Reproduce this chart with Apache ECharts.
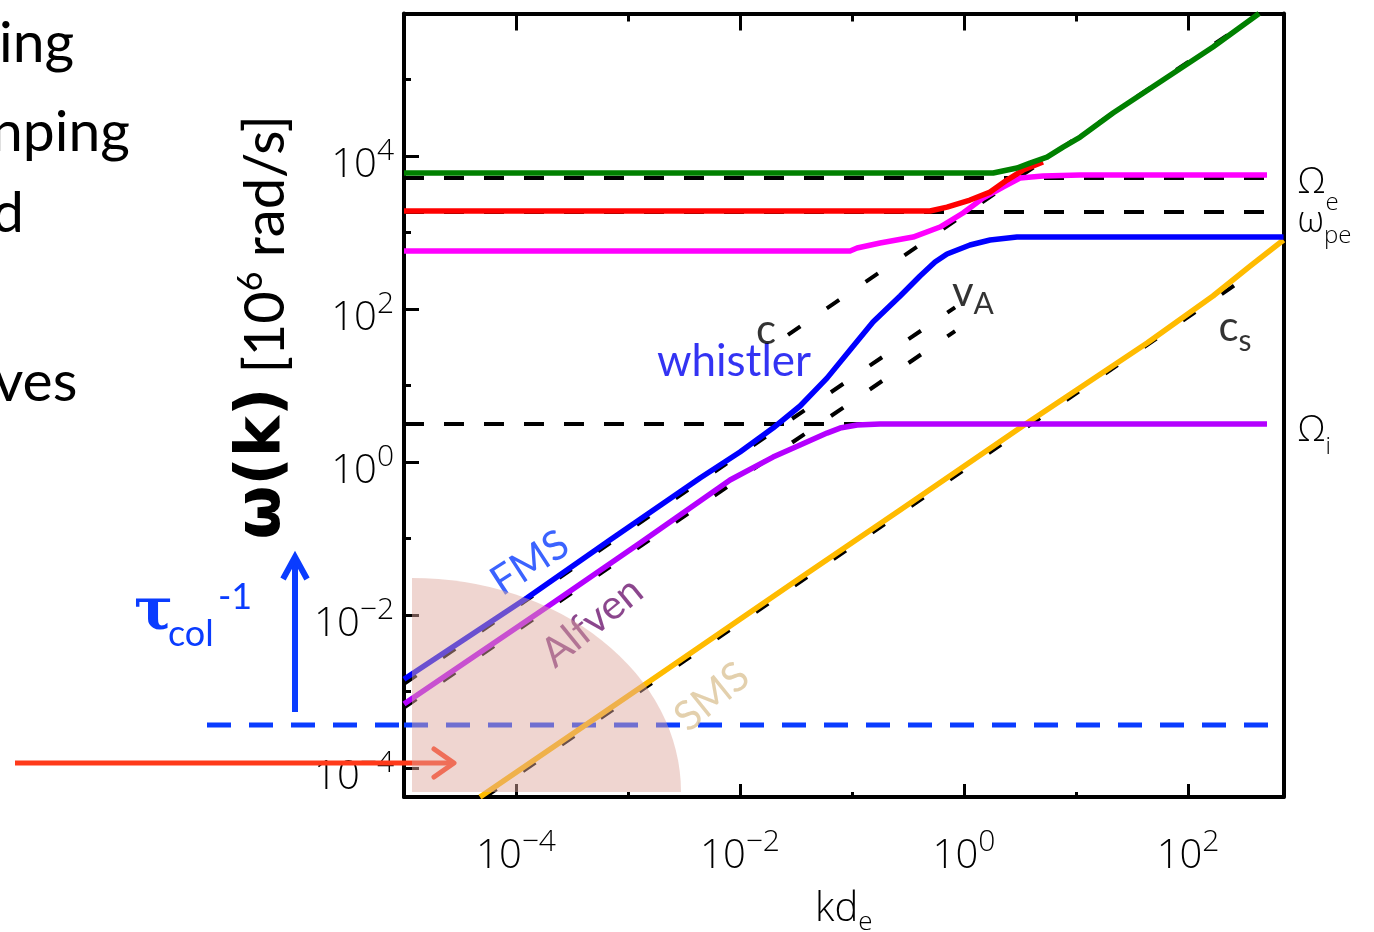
<!DOCTYPE html>
<html><head><meta charset="utf-8">
<script src="https://cdn.jsdelivr.net/npm/echarts@6/dist/echarts.min.js"></script>
<style>html,body{margin:0;padding:0;background:#fff}#c{width:1374px;height:932px}</style>
</head><body><div id="c"></div>
<script>
// ---------- axis ranges and ticks ----------
const kMin = 1e-5, kMax = 712;
const wMin = 4.18e-5, wMax = 7.3e5;
const xMajorTicks = [1e-4, 1e-2, 1, 1e2];
const xMinorTicks = [1e-3, 1e-1, 1e1];
const yMajorTicks = [1e-4, 1e-2, 1, 1e2, 1e4];
const yMinorTicks = [1e-3, 1e-1, 1e1, 1e3, 1e5];

// ---------- dispersion branches [k d_e, omega] ----------
const fmsWhistler = [[1e-5,1.45e-3],[1.25e-4,0.0167],[6.9e-4,0.0955],[4.4e-3,0.618],[0.01,1.35],[0.0197,2.78],[0.0344,5.4],[0.0598,12.5],[0.096,29.1],[0.154,67.6],[0.269,148],[0.405,270],[0.551,411],[0.705,524],[1.13,687],[1.71,798],[2.97,873],[712,873]];
const alfven = [[1e-5,6.87e-4],[1.89e-4,0.0127],[1.28e-3,0.0873],[8.15e-3,0.582],[0.0197,1.16],[0.0344,1.67],[0.0598,2.39],[0.0782,2.78],[0.111,3.05],[0.178,3.14],[507,3.14]];
const sms = [[4.77e-5,4.18e-5],[1.48e-3,1.29e-3],[0.0344,0.0305],[0.269,0.236],[3.66,3.24],[43.1,35.9],[167,148],[358,365],[712,798]];
const magentaBranch = [[1e-5,573],[0.096,573],[0.111,627],[0.178,729],[0.351,873],[0.611,1180],[0.98,1800],[1.48,2820],[2.23,3940],[3.16,5160],[5.07,5480],[10.9,5650],[507,5650]];
const redBranch = [[1e-5,1910],[0.497,1910],[0.705,2150],[1.13,2660],[1.71,3380],[2.42,4850],[3.37,6560],[5.07,8350]];
const greenBranch = [[1e-5,6000],[1.82,6000],[2.97,6970],[3.88,8090],[5.51,9700],[7.66,13100],[10.9,17700],[21.4,36500],[59.8,98400],[167,266000],[431,730000]];

// ---------- asymptotes ----------
const lightLine = [[0.0268,46],[431,7.3e5]];
const fmsLine = [[1e-5,1.26e-3],[0.832,105]];
const vALine = [[1e-5,6.17e-4],[0.832,51.3]];
const csLine = [[5.2e-5,4.1e-5],[420,330]];
const OmegaE = 5150, omegaPe = 1854, OmegaI = 3.14, tauColInv = 3.65e-4;

// ---------- in-plot text labels [k, omega] ----------
const labelNames = ['whistler','c','vA','cs','FMS','Alfven','SMS'];
const labelK = [8.83e-3, 0.0171, 1.20, 263, 1.33e-4, 4.78e-4, 5.62e-3];
const labelW = [20.3, 53.1, 152, 51.6, 0.0479, 8.1e-3, 8.47e-4];

// ---------- styling ----------
const tickFont = "'Open Sans','Liberation Sans',sans-serif";
const slideFont = "Lato,'Noto Sans',sans-serif";
const black = '#000';

function powLabel(v){
  const e = Math.round(Math.log10(v));
  return '{b|10}{s|' + (e < 0 ? '\u2212' + (-e) : e) + '}';
}
const powRich = {
  b:{fontFamily:tickFont, fontWeight:300, fontSize:40, lineHeight:50, verticalAlign:'bottom', color:black},
  s:{fontFamily:tickFont, fontWeight:300, fontSize:30, verticalAlign:'top', color:black}
};

function logAxis(extra){
  return Object.assign({
    type:'log', logBase:10, splitLine:{show:false},
    axisLine:{show:false}, axisTick:{show:false}, axisLabel:{show:false}
  }, extra);
}
const frame = {show:true, lineStyle:{color:black, width:4}};
function ticks(vals, len){ return {show:true, inside:true, length:len, customValues:vals, lineStyle:{color:black, width:3}}; }

const xRange = {min:kMin, max:kMax};
const yRange = {min:wMin, max:wMax};

const xAxes = [
  logAxis(Object.assign({position:'bottom', axisLine:frame, axisTick:ticks(xMajorTicks,13),
    axisLabel:{show:true, customValues:xMajorTicks, margin:30, formatter:powLabel, rich:powRich},
    name:'{m|kd}{s|e}', nameLocation:'middle', nameGap:93,
    nameTextStyle:{rich:{
      m:{fontFamily:tickFont, fontWeight:300, fontSize:40, lineHeight:46, verticalAlign:'top', color:black},
      s:{fontFamily:tickFont, fontWeight:300, fontSize:26, verticalAlign:'bottom', color:black}
    }}}, xRange)),
  logAxis(Object.assign({position:'bottom', axisTick:ticks(xMinorTicks,5)}, xRange)),
  logAxis(Object.assign({position:'top', axisLine:frame, axisTick:ticks(xMajorTicks,17)}, xRange)),
  logAxis(Object.assign({position:'top', axisTick:ticks(xMinorTicks,8)}, xRange))
];
const yAxes = [
  logAxis(Object.assign({position:'left', axisLine:frame, axisTick:ticks(yMajorTicks,15),
    axisLabel:{show:true, customValues:yMajorTicks, margin:10, padding:[10,0,0,0], formatter:powLabel, rich:powRich},
    name:'{w|\u03c9(k)}{n| [10}{u|6}{n| rad/s]}', nameLocation:'middle', nameRotate:90, nameGap:110,
    nameTextStyle:{padding:[0,0,0,156], rich:{
      w:{fontFamily:"'DejaVu Sans',sans-serif", fontWeight:'bold', fontSize:62, lineHeight:60, verticalAlign:'bottom', color:black},
      n:{fontFamily:slideFont, fontSize:56, lineHeight:60, verticalAlign:'bottom', color:black},
      u:{fontFamily:slideFont, fontSize:34, verticalAlign:'top', color:black}
    }}}, yRange)),
  logAxis(Object.assign({position:'left', axisTick:ticks(yMinorTicks,7)}, yRange)),
  logAxis(Object.assign({position:'right', axisLine:frame}, yRange))
];

function curve(name, data, color, z){
  return {name, type:'line', data, symbol:'none', silent:true, z,
    lineStyle:{color, width:5.5, cap:'butt', join:'round'}};
}
function dashed(name, data, color, width, dash, z){
  return {name, type:'line', data, symbol:'none', silent:true, z,
    lineStyle:{color, width, type:dash, cap:'butt'}};
}
function level(name, value, labelText, lh, offsetY){
  return {name, type:'line', symbol:'none', silent:true, z:2,
    data:[[kMin, value],[kMax, value]],
    lineStyle:{color:black, width:4, type:[20,20], cap:'butt'},
    endLabel:{show:true, formatter:labelText, distance:14, offset:[0, offsetY],
      rich:{
        o:{fontFamily:tickFont, fontWeight:300, fontSize:36, lineHeight:lh, verticalAlign:'top', color:black},
        s:{fontFamily:tickFont, fontWeight:300, fontSize:24, verticalAlign:'bottom', color:black}
      }}};
}

const labelStyles = {
  whistler:{formatter:'whistler', rotate:0, color:'#0000f0', fontSize:44, fontFamily:slideFont},
  c:{formatter:'c', rotate:0, color:black, fontSize:42, fontFamily:slideFont},
  vA:{formatter:'{m|v}{s|A}', rotate:0, rich:{
    m:{fontFamily:slideFont, fontSize:42, lineHeight:48, verticalAlign:'top', color:black},
    s:{fontFamily:slideFont, fontSize:30, verticalAlign:'bottom', color:black}}},
  cs:{formatter:'{m|c}{s|s}', rotate:0, rich:{
    m:{fontFamily:slideFont, fontSize:42, lineHeight:50, verticalAlign:'top', color:black},
    s:{fontFamily:slideFont, fontSize:30, verticalAlign:'bottom', color:black}}},
  FMS:{formatter:'FMS', rotate:33, color:'#0a3cff', fontSize:41, fontFamily:slideFont},
  Alfven:{formatter:'Alfven', rotate:39, color:'#6e1870', fontSize:41, fontFamily:slideFont},
  SMS:{formatter:'SMS', rotate:39, color:'#dcc498', fontSize:41, fontFamily:slideFont}
};
const labelData = labelNames.map((n,i) => ({
  value:[labelK[i], labelW[i]],
  label:Object.assign({show:true, position:'inside'}, labelStyles[n])
}));

const option = {
  animation:false,
  backgroundColor:'#fff',
  grid:{left:404, right:90.5, top:13.5, bottom:135, show:false, containLabel:false, outerBoundsMode:'none'},
  xAxis:xAxes,
  yAxis:yAxes,
  series:[
    level('Omega_e', OmegaE, '{o|\u03a9}{s|e}', 51, 12),
    level('omega_pe', omegaPe, '{o|\u03c9}{s|pe}', 44, 14),
    level('Omega_i', OmegaI, '{o|\u03a9}{s|i}', 47, 12),
    dashed('c', lightLine, black, 4, [15,32], 2),
    dashed('FMS asymptote', fmsLine, black, 4, [15,32], 2),
    dashed('vA', vALine, black, 4, [15,32], 2),
    dashed('cs', csLine, black, 4, [15,32], 2),
    dashed('tau_col^-1', [[kMin,tauColInv],[kMax,tauColInv]], '#0a3cff', 5, [24,18], 2),
    curve('SMS', sms, '#ffbb00', 3),
    curve('Alfven', alfven, '#b400ff', 3),
    curve('FMS / whistler', fmsWhistler, '#0000ff', 3),
    curve('upper magenta', magentaBranch, '#ff00ff', 3),
    curve('red', redBranch, '#ff0000', 3),
    curve('green', greenBranch, '#008000', 4),
    {name:'labels', type:'scatter', symbol:'circle', symbolSize:1, silent:true, z:5,
     itemStyle:{color:'rgba(0,0,0,0)'}, data:labelData}
  ]
};

const chart = echarts.init(document.getElementById('c'));
chart.setOption(option);

// ---------- annotations outside the plot ----------
const tl = chart.convertToPixel({gridIndex:0}, [kMin, wMax]);
const br = chart.convertToPixel({gridIndex:0}, [kMax, wMin]);
const tauY = chart.convertToPixel({yAxisIndex:0}, tauColInv);
const blue = '#0a3cff', orange = '#ff3a1a';
const leftFont = "57px Lato, 'Noto Sans', sans-serif";
chart.setOption({graphic:[
  {type:'line', z:1, shape:{x1:207, y1:tauY, x2:tl[0], y2:tauY}, style:{stroke:blue, lineWidth:5, lineDash:[24,18]}},
  {type:'line', z:1, shape:{x1:295, y1:tauY-13, x2:295, y2:558}, style:{stroke:blue, lineWidth:6}},
  {type:'polyline', z:1, shape:{points:[[283,579],[295,557],[307,579]]}, style:{stroke:blue, lineWidth:6, fill:null, lineJoin:'miter'}},
  {type:'line', z:1, shape:{x1:15, y1:763, x2:452, y2:763}, style:{stroke:orange, lineWidth:5}},
  {type:'polyline', z:1, shape:{points:[[434,749],[454,763],[434,777]]}, style:{stroke:orange, lineWidth:5, fill:null, lineCap:'round', lineJoin:'round'}},
  {type:'sector', z:100, x:tl[0]+8, y:br[1]-5, scaleX:269/214,
    shape:{cx:0, cy:0, r0:0, r:214, startAngle:-Math.PI/2, endAngle:0, clockwise:true},
    style:{fill:'rgba(221,167,156,0.48)'}},
  {type:'text', z:1, x:134, y:614, style:{text:'\u03c4', font:"bold 58px 'DejaVu Serif', serif", fill:blue, verticalAlign:'middle'}},
  {type:'text', z:1, x:168, y:634, style:{text:'col', font:"36px Lato, 'Noto Sans', sans-serif", fill:blue, verticalAlign:'middle'}},
  {type:'text', z:1, x:218, y:597, style:{text:'-1', font:"36px Lato, 'Noto Sans', sans-serif", fill:blue, verticalAlign:'middle'}},
  {type:'text', z:1, x:-1, y:44, style:{text:'ing', font:leftFont, fill:black, verticalAlign:'middle'}},
  {type:'text', z:1, x:-9, y:133, style:{text:'nping', font:leftFont, fill:black, verticalAlign:'middle'}},
  {type:'text', z:1, x:-8, y:214, style:{text:'d', font:leftFont, fill:black, verticalAlign:'middle'}},
  {type:'text', z:1, x:-6, y:383, style:{text:'ves', font:leftFont, fill:black, verticalAlign:'middle'}}
]});
</script></body></html>
